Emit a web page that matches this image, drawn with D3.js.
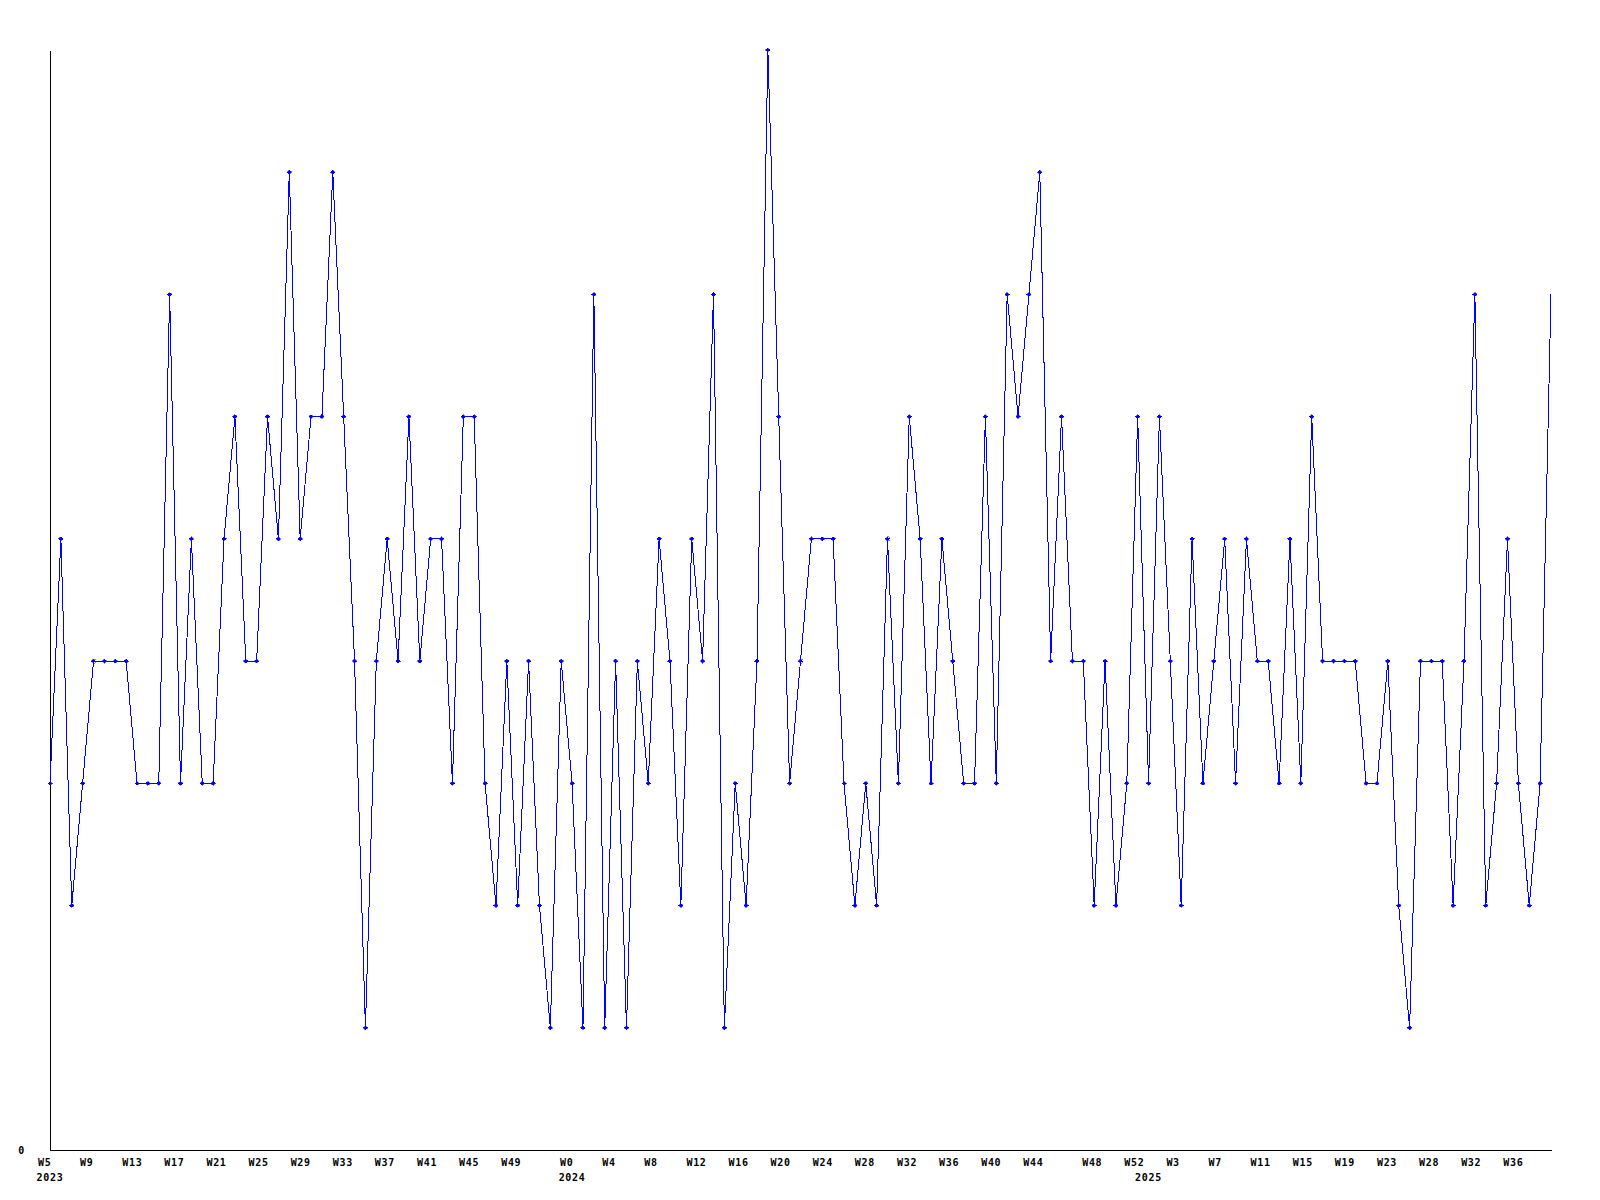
<!DOCTYPE html>
<html>
<head>
<meta charset="utf-8">
<script src="https://cdn.jsdelivr.net/npm/d3@7"></script>
<style>
  html, body { margin: 0; padding: 0; background: #fff; }
  svg { display: block; }
  text { font-family: "DejaVu Sans Mono", "Liberation Mono", monospace; font-weight: bold; font-size: 10px; fill: #000; letter-spacing: 0.7px; }
</style>
</head>
<body>
<svg id="chart" width="1600" height="1200"></svg>
<script>
// Weekly counts, first point = 2023 W5, last point = 2025 W38
const values = [
  3,5,2,3,4,4,4,4,3,3, 3,7,3,5,3,3,5,6,4,4,
  6,5,8,5,6,6,8,6,4,1, 4,5,4,6,4,5,5,3,6,6,
  3,2,4,2,4,2,1,4,3,1, 7,1,4,1,4,3,5,4,2,5,
  4,7,1,3,2,4,9,6,3,4, 5,5,5,3,2,3,2,5,3,6,
  5,3,5,4,3,3,6,3,7,6, 7,8,4,6,4,4,2,4,2,3,
  6,3,6,4,2,5,3,4,5,3, 5,4,4,3,5,3,6,4,4,4,
  4,3,3,4,2,1,4,4,4,2, 4,7,2,3,5,3,2,3,7
];
// x-axis week labels: one every 4th weekly point
const weekLabels = [
  "W5","W9","W13","W17","W21","W25","W29","W33","W37","W41","W45","W49",
  "W0","W4","W8","W12","W16","W20","W24","W28","W32","W36","W40","W44",
  "W48","W52","W3","W7","W11","W15","W19","W23","W28","W32","W36"
];
const weekLabelStep = 4;
// year labels and the index of the first point of each year
const yearLabels = ["2023","2024","2025"];
const yearStartIndex = [0, 48, 101];
const yTickValues = [0];
const yMax = 9;

(function () {
const svg = d3.select("#chart");
const mLeft = 50, mRight = 1551, mTop = 50, mBottom = 1150;

const x = d3.scaleLinear().domain([0, values.length - 1]).range([mLeft, mRight]);
const y = d3.scaleLinear().domain([0, yMax]).range([mBottom, mTop]);

// Y axis
const yAxis = svg.append("g")
  .attr("transform", `translate(${mLeft},0)`)
  .call(d3.axisLeft(y).tickValues(yTickValues).tickSize(0).tickSizeOuter(0).tickPadding(25).tickFormat(d3.format("d")));
yAxis.attr("font-family", null).attr("font-size", null);
yAxis.select(".domain").attr("stroke", "#000").attr("shape-rendering", "crispEdges");
yAxis.selectAll("text").attr("dy", "0.36em");

// X axis line
const xAxis = svg.append("g")
  .attr("transform", `translate(0,${mBottom})`)
  .call(d3.axisBottom(x).tickValues([]).tickSizeOuter(0));
xAxis.select(".domain").attr("stroke", "#000").attr("shape-rendering", "crispEdges");

// Week labels
svg.append("g").selectAll("text")
  .data(weekLabels)
  .join("text")
  .attr("x", (d, k) => x(k * weekLabelStep) - 12 - 1.4 * (k % 12))
  .attr("y", mBottom + 16)
  .attr("text-anchor", "start")
  .text(d => d);

// Year labels
svg.append("g").selectAll("text")
  .data(yearLabels)
  .join("text")
  .attr("x", (d, k) => x(yearStartIndex[k]))
  .attr("y", mBottom + 30.5)
  .attr("text-anchor", "middle")
  .text(d => d);

// Line
const line = d3.line().x((d, i) => x(i)).y(d => y(d));
svg.append("path")
  .datum(values)
  .attr("d", line)
  .attr("fill", "none")
  .attr("stroke", "#0000ff")
  .attr("stroke-width", 1)
  .attr("shape-rendering", "crispEdges");

// Markers (last, still-running week has none)
const marker = "M0,-2L2.5,0L0,2L-2.5,0Z";
svg.append("g").selectAll("path")
  .data(values.slice(0, -1))
  .join("path")
  .attr("transform", (d, i) => `translate(${x(i)},${y(d)})`)
  .attr("d", marker)
  .attr("fill", "#0000ff")
  .attr("stroke", "#0000ff")
  .attr("stroke-width", 0.5)
  .attr("shape-rendering", "crispEdges");
})();
</script>
</body>
</html>
